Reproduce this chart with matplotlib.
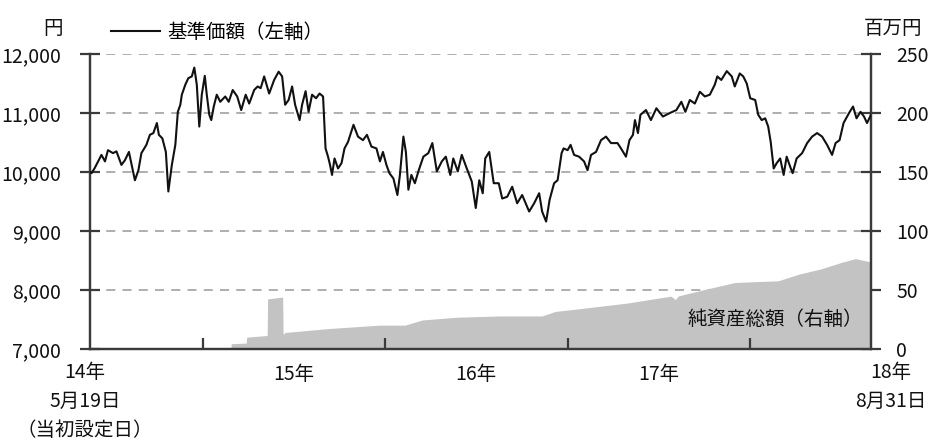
import matplotlib
matplotlib.use('Agg')
import matplotlib.pyplot as plt
import pandas as pd

plt.rcParams['font.family'] = ['Noto Sans CJK JP', 'DejaVu Sans']

# ---------------- data ----------------
price_dates = [
    '2014-05-19', '2014-05-22', '2014-05-28', '2014-06-11', '2014-06-18', '2014-06-24', '2014-07-04',
    '2014-07-11', '2014-07-21', '2014-07-28', '2014-08-05', '2014-08-09', '2014-08-17', '2014-08-24',
    '2014-08-30', '2014-09-09', '2014-09-16', '2014-09-23', '2014-09-30', '2014-10-04', '2014-10-11',
    '2014-10-18', '2014-10-23', '2014-10-30', '2014-11-06', '2014-11-11', '2014-11-16', '2014-11-19',
    '2014-11-26', '2014-12-02', '2014-12-09', '2014-12-14', '2014-12-19', '2014-12-24', '2014-12-29',
    '2015-01-04', '2015-01-08', '2015-01-13', '2015-01-17', '2015-01-22', '2015-01-28', '2015-02-04',
    '2015-02-14', '2015-02-21', '2015-03-01', '2015-03-10', '2015-03-18', '2015-03-27', '2015-04-03',
    '2015-04-13', '2015-04-20', '2015-04-26', '2015-05-03', '2015-05-13', '2015-05-23', '2015-06-01',
    '2015-06-08', '2015-06-14', '2015-06-21', '2015-06-28', '2015-07-04', '2015-07-13', '2015-07-18',
    '2015-07-25', '2015-07-31', '2015-08-07', '2015-08-15', '2015-08-22', '2015-08-29', '2015-09-03',
    '2015-09-08', '2015-09-12', '2015-09-16', '2015-09-21', '2015-09-28', '2015-10-05', '2015-10-11',
    '2015-10-18', '2015-10-29', '2015-11-07', '2015-11-17', '2015-11-25', '2015-12-04', '2015-12-14',
    '2015-12-21', '2015-12-27', '2016-01-03', '2016-01-09', '2016-01-17', '2016-01-25', '2016-01-30',
    '2016-02-06', '2016-02-11', '2016-02-16', '2016-02-22', '2016-02-29', '2016-03-07', '2016-03-17',
    '2016-03-27', '2016-04-04', '2016-04-13', '2016-04-23', '2016-05-01', '2016-05-10', '2016-05-16',
    '2016-05-25', '2016-06-02', '2016-06-12', '2016-06-22', '2016-06-30', '2016-07-07', '2016-07-14',
    '2016-07-19', '2016-07-27', '2016-08-05', '2016-08-15', '2016-08-22', '2016-09-01', '2016-09-11',
    '2016-09-21', '2016-10-01', '2016-10-15', '2016-10-25', '2016-11-04', '2016-11-10', '2016-11-18',
    '2016-11-25', '2016-12-04', '2016-12-11', '2016-12-19', '2016-12-23', '2016-12-31', '2017-01-06',
    '2017-01-13', '2017-01-23', '2017-02-02', '2017-02-09', '2017-02-16', '2017-02-26', '2017-03-08',
    '2017-03-18', '2017-03-28', '2017-04-10', '2017-04-17', '2017-04-27', '2017-05-04', '2017-05-11',
    '2017-05-15', '2017-05-21', '2017-05-26', '2017-06-06', '2017-06-16', '2017-06-27', '2017-07-10',
    '2017-07-24', '2017-08-06', '2017-08-16', '2017-08-24', '2017-09-02', '2017-09-12', '2017-09-22',
    '2017-10-02', '2017-10-12', '2017-10-22', '2017-10-27', '2017-11-04', '2017-11-15', '2017-11-25',
    '2017-12-01', '2017-12-11', '2017-12-18', '2017-12-25', '2018-01-01', '2018-01-11', '2018-01-17',
    '2018-01-24', '2018-01-31', '2018-02-06', '2018-02-11', '2018-02-17', '2018-02-23', '2018-03-02',
    '2018-03-09', '2018-03-15', '2018-03-22', '2018-03-27', '2018-04-04', '2018-04-15', '2018-04-25',
    '2018-05-05', '2018-05-15', '2018-05-25', '2018-06-04', '2018-06-14', '2018-06-21', '2018-06-29',
    '2018-07-07', '2018-07-18', '2018-07-26', '2018-08-02', '2018-08-10', '2018-08-17', '2018-08-23',
    '2018-08-31',
]
price_values = [
    10000, 9980, 10060, 10290, 10180, 10370, 10320,
    10350, 10120, 10200, 10340, 10180, 9860, 10030,
    10320, 10460, 10630, 10660, 10830, 10630, 10570,
    10340, 9670, 10120, 10460, 11020, 11140, 11310,
    11480, 11590, 11620, 11770, 11480, 10770, 11310,
    11630, 11310, 10970, 10880, 11110, 11310, 11190,
    11280, 11190, 11390, 11280, 11050, 11310, 11160,
    11390, 11450, 11420, 11620, 11330, 11560, 11700,
    11620, 11140, 11220, 11450, 11140, 10880, 11140,
    11370, 11020, 11310, 11250, 11330, 11280, 10400,
    10260, 10120, 9950, 10230, 10060, 10150, 10400,
    10510, 10800, 10600, 10540, 10630, 10430, 10400,
    10180, 10340, 10120, 9980, 9890, 9610, 9950,
    10600, 10340, 9700, 9950, 9810, 10010, 10260,
    10320, 10490, 10010, 10180, 10260, 9950, 10230,
    10010, 10290, 10060, 9840, 9390, 9860, 9640,
    10230, 10340, 9810, 9810, 9550, 9580, 9750,
    9470, 9610, 9330, 9470, 9640, 9330, 9160,
    9530, 9810, 9860, 10320, 10400, 10370, 10460,
    10290, 10260, 10180, 10030, 10290, 10340, 10540,
    10600, 10490, 10490, 10400, 10260, 10540, 10630,
    10880, 10660, 10970, 11050, 10880, 11080, 10940,
    11000, 11050, 11190, 11020, 11220, 11160, 11360,
    11280, 11310, 11480, 11620, 11560, 11710, 11620,
    11450, 11670, 11620, 11500, 11250, 11220, 10970,
    10880, 10910, 10770, 10510, 10060, 10150, 10230,
    9950, 10260, 10090, 9980, 10230, 10320, 10490,
    10600, 10660, 10600, 10460, 10290, 10490, 10540,
    10830, 11000, 11110, 10910, 11020, 10940, 10830,
    10970,
]

nav_dates = [
    '2014-05-19', '2015-02-25', '2015-02-26', '2015-03-28', '2015-03-29', '2015-05-09',
    '2015-05-10', '2015-06-09', '2015-06-10', '2015-06-14', '2015-09-08', '2015-12-20',
    '2016-02-09', '2016-03-15', '2016-05-22', '2016-08-16', '2016-11-10', '2016-12-06',
    '2017-02-04', '2017-05-01', '2017-07-26', '2017-08-04', '2017-08-10', '2017-10-03',
    '2017-12-02', '2018-02-26', '2018-04-10', '2018-05-23', '2018-07-05', '2018-07-31',
    '2018-08-31',
]
nav_values = [
    0, 0, 4.5, 5, 10, 11.5,
    42.5, 44, 12.5, 14, 17.3, 20.2,
    20.2, 24.6, 26.9, 28, 28, 31.8,
    34.7, 39, 44.8, 41.9, 45, 50.6,
    56.4, 57.8, 63.6, 67.9, 73.7, 76.6,
    73.7,
]

left_ticks = [7000, 8000, 9000, 10000, 11000, 12000]
right_ticks = [0, 50, 100, 150, 200, 250]
year_tick_dates = ['2015-01-01', '2016-01-01', '2017-01-01', '2018-01-01']
year_label_dates = ['2015-07-01', '2016-07-01', '2017-07-01']
year_labels = ['15年', '16年', '17年']
start_date, end_date = '2014-05-19', '2018-08-31'
start_label = '14年\n5月19日\n（当初設定日）'
end_label = '18年\n8月31日'
price_name = '基準価額（左軸）'
nav_name = '純資産総額（右軸）'

# ---------------- plot ----------------
W, H = 930, 446
FS = 14
TXT = '#111111'
fig = plt.figure(figsize=(W / 100, H / 100), dpi=100)
L, R, T, B = 90, 871, 54, 349
ax = fig.add_axes([L / W, 1 - B / H, (R - L) / W, (B - T) / H])
ax2 = ax.twinx()

pdates = pd.to_datetime(price_dates)
ndates = pd.to_datetime(nav_dates)

spine_c = '#3a3a3a'
grid_c = '#a8a8a8'

# area on right axis (drawn below)
ax2.fill_between(ndates, 0, nav_values, color='#c3c3c3', linewidth=0, zorder=2)
ax2.set_ylim(0, 250)
ax2.set_yticks(right_ticks)
ax2.grid(axis='y', color=grid_c, linestyle=(0, (5, 4)), linewidth=1.3, zorder=1)
ax2.set_axisbelow(True)

# price line on left axis, above area
ax.set_zorder(ax2.get_zorder() + 1)
ax.patch.set_visible(False)
line, = ax.plot(pdates, price_values, color='#111111', linewidth=1.5, zorder=3)
ax.set_ylim(7000, 12000)
ax.set_yticks(left_ticks)
ax.yaxis.set_major_formatter(matplotlib.ticker.FuncFormatter(lambda v, p: f'{int(v):,}'))
ax.set_xlim(pd.Timestamp(start_date), pd.Timestamp(end_date))

ax.set_xticks(pd.to_datetime(year_tick_dates))
ax.set_xticklabels([])
ax.set_xticks(pd.to_datetime(year_label_dates), minor=True)
ax.set_xticklabels(year_labels, minor=True)

for a in (ax, ax2):
    for s in a.spines.values():
        s.set_color(spine_c)
        s.set_linewidth(1.6)
    a.spines['top'].set_visible(False)

ax.tick_params(axis='x', which='major', direction='in', length=8, width=1.6, color=spine_c)
ax.tick_params(axis='x', which='minor', length=0, pad=11, labelsize=FS, colors=TXT)
ax.tick_params(axis='y', direction='inout', length=14, width=1.6, color=spine_c,
               pad=14, labelsize=FS, labelcolor=TXT)
ax2.tick_params(axis='y', direction='inout', length=14, width=1.6, color=spine_c,
                pad=11, labelsize=FS, labelcolor=TXT)

# end labels
ax.annotate(start_label, xy=(pd.Timestamp(start_date), 0), xycoords=('data', 'axes fraction'),
            xytext=(-5, -13), textcoords='offset pixels', ha='center', va='top',
            multialignment='center', fontsize=FS, linespacing=1.5, color=TXT)
ax.annotate(end_label, xy=(pd.Timestamp(end_date), 0), xycoords=('data', 'axes fraction'),
            xytext=(20, -13), textcoords='offset pixels', ha='center', va='top',
            multialignment='center', fontsize=FS, linespacing=1.5, color=TXT)

# unit labels
fig.text(63 / W, 1 - 29 / H, '円', ha='right', va='center', fontsize=FS, color=TXT)
fig.text(922 / W, 1 - 28 / H, '百万円', ha='right', va='center', fontsize=FS, color=TXT)

# legend for line
ax.legend(handles=[line], labels=[price_name], loc='center left', frameon=False,
          bbox_to_anchor=(111 / W, 1 - 32 / H), bbox_transform=fig.transFigure,
          borderpad=0, borderaxespad=0, handlelength=2.5, handletextpad=0.4,
          fontsize=FS)

# area label
ax.text(0.99, 0.10, nav_name, transform=ax.transAxes, ha='right', va='center',
        fontsize=FS, color=TXT)

fig.savefig('out.png', dpi=100)
